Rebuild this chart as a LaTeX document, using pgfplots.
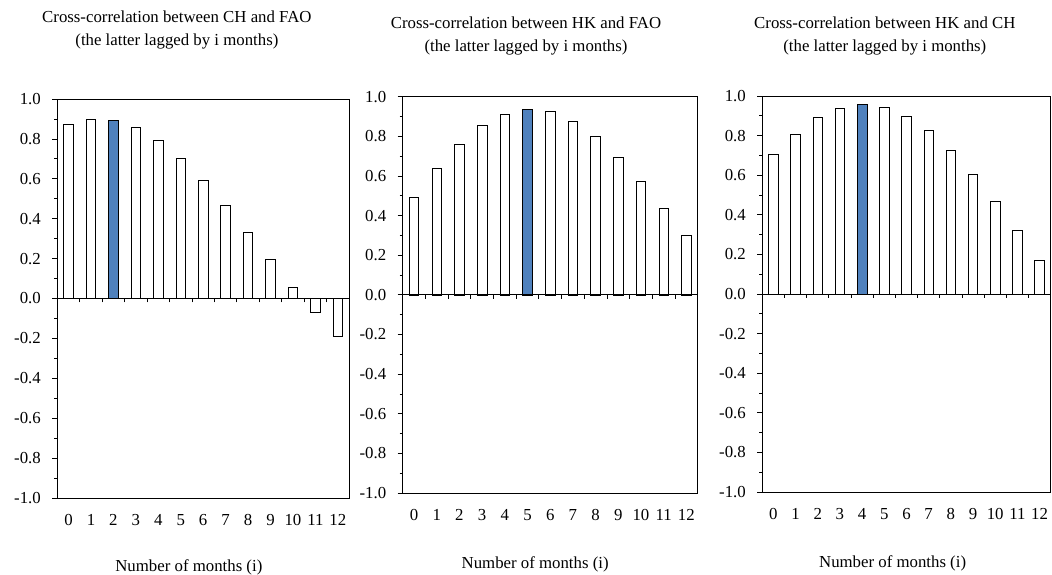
\documentclass[border=0pt]{standalone}
\usepackage{fontspec}
\setmainfont{Liberation Serif}
\usepackage{pgfplots}
\pgfplotsset{compat=1.18}

\definecolor{barblue}{RGB}{79,129,189}

\pgfplotsset{
  ccpanel/.style={
    scale only axis,
    xmin=-0.5, xmax=12.5, ymin=-1, ymax=1,
    axis line style={black, line width=0.8pt},
    xtick={0,...,12},
    xticklabels={0,1,2,3,4,5,6,7,8,9,10,11,12},
    x tick style={draw=none},
    xticklabel shift=8pt,
    ytick={-1,-0.8,-0.6,-0.4,-0.2,0,0.2,0.4,0.6,0.8,1},
    yticklabels={-1.0,-0.8,-0.6,-0.4,-0.2,0.0,0.2,0.4,0.6,0.8,1.0},
    minor y tick num=1,
    y tick style={black, line width=0.8pt},
    tick align=outside,
    major tick length=5pt, minor tick length=3pt,
    yticklabel shift=8pt,
    ytick pos=left,
    /pgf/number format/assume math mode=true,
    tick label style={font=\fontsize{16.8}{20}\selectfont},
    label style={font=\fontsize{16.8}{20}\selectfont},
    title style={font=\fontsize{16.8}{23}\selectfont, align=center, anchor=center},
    xlabel={Number of months (i)},
  },
  % zero line with the category boundary ticks hanging below it
  cczero/.style={
    scale only axis,
    xmin=-0.5, xmax=12.5, ymin=-1, ymax=1,
    axis x line=middle, axis y line=none,
    x axis line style={-, black, line width=0.8pt},
    xtick={-0.5,0.5,...,12.5}, xticklabels={},
    ytick=\empty,
    tick align=center, major tick length=4pt,
    x tick style={black, line width=0.8pt, yshift=-2pt},
  },
  plain bar/.style={ybar, bar width=9.5pt, bar shift=0pt, fill=white, draw=black, line width=0.7pt},
  blue bar/.style={ybar, bar width=9.5pt, bar shift=0pt, fill=barblue, draw=black, line width=0.7pt},
}

\begin{document}
\begin{tikzpicture}
\useasboundingbox (0,0) rectangle (1052pt,-575pt);

% panel 1: CH vs FAO
\begin{axis}[ccpanel, at={(57.3pt,-99pt)}, anchor=north west,
  width=291.7pt, height=399pt,
  title={Cross-correlation between CH and FAO\\(the latter lagged by i months)},
  title style={at={(0.41,1.157)}},
  xlabel style={at={(0.451,-0.175)}, anchor=center},
]
\addplot[plain bar] coordinates {(0,0.873) (1,0.898) (3,0.858) (4,0.793) (5,0.703) (6,0.593) (7,0.467) (8,0.333) (9,0.197) (10,0.058) (11,-0.069) (12,-0.190)};
\addplot[blue bar] coordinates {(2,0.893)};
\end{axis}
\begin{axis}[cczero, at={(57.3pt,-99pt)}, anchor=north west, width=291.7pt, height=399pt]
\end{axis}

% panel 2: HK vs FAO
\begin{axis}[ccpanel, at={(402.7pt,-96.7pt)}, anchor=north west,
  width=295pt, height=396.3pt,
  title={Cross-correlation between HK and FAO\\(the latter lagged by i months)},
  title style={at={(0.418,1.138)}},
  xlabel style={at={(0.449,-0.18)}, anchor=center},
]
\addplot[plain bar] coordinates {(0,0.491) (1,0.637) (2,0.760) (3,0.855) (4,0.913) (6,0.924) (7,0.876) (8,0.798) (9,0.694) (10,0.573) (11,0.439) (12,0.301)};
\addplot[blue bar] coordinates {(5,0.936)};
\end{axis}
\begin{axis}[cczero, at={(402.7pt,-96.7pt)}, anchor=north west, width=295pt, height=396.3pt]
\end{axis}

% panel 3: HK vs CH
\begin{axis}[ccpanel, at={(762.3pt,-96pt)}, anchor=north west,
  width=288.3pt, height=396pt,
  title={Cross-correlation between HK and CH\\(the latter lagged by i months)},
  title style={at={(0.425,1.137)}},
  xlabel style={at={(0.452,-0.18)}, anchor=center},
]
\addplot[plain bar] coordinates {(0,0.703) (1,0.808) (2,0.891) (3,0.938) (5,0.943) (6,0.899) (7,0.827) (8,0.726) (9,0.603) (10,0.469) (11,0.323) (12,0.171)};
\addplot[blue bar] coordinates {(4,0.956)};
\end{axis}
\begin{axis}[cczero, at={(762.3pt,-96pt)}, anchor=north west, width=288.3pt, height=396pt]
\end{axis}
\end{tikzpicture}
\end{document}
